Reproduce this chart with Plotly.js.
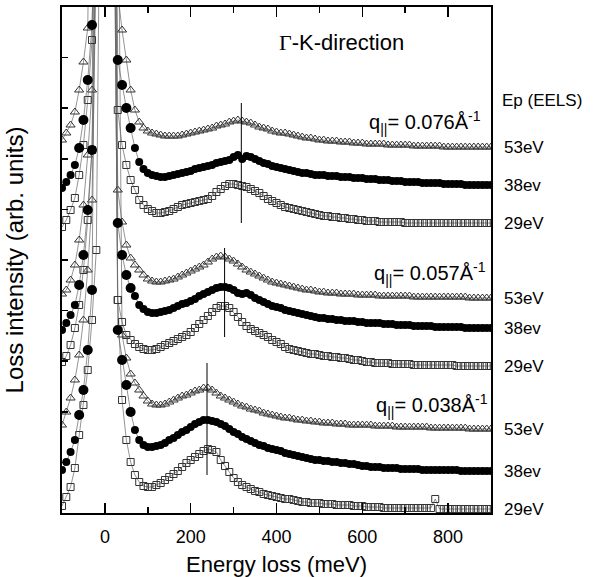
<!DOCTYPE html>
<html>
<head>
<meta charset="utf-8">
<script src="https://cdn.plot.ly/plotly-3.0.1.min.js"></script>
<style>html,body{margin:0;padding:0;background:#fff;}#chart{width:596px;height:577px;}</style>
</head>
<body>
<div id="chart"></div>
<script>
// Energy loss axis (meV)
const energy = [-100,-90,-80,-70,-60,-50,-40,-30,-20,-10,
  0,10,20,30,40,50,60,70,80,90,
  100,110,120,130,140,150,160,170,180,190,
  200,210,220,230,240,250,260,270,280,290,
  300,310,320,330,340,350,360,370,380,390,
  400,410,420,430,440,450,460,470,480,490,
  500,510,520,530,540,550,560,570,580,590,
  600,610,620,630,640,650,660,670,680,690,
  700,710,720,730,740,750,760,770,780,790,
  800,810,820,830,840,850,860,870,880,890,900];

// Loss intensity (arb. units, offset curves). Values above 506 are off-scale (elastic peak).
// q|| = 0.038 1/A
const q038_29eV = [7,16,26,45,78,108,143,193,263,700,
  800,800,700,213,113,73,51,38,31,27,
  26,26,28,30,33,36,39,42,46,50,
  53,56,59,62,64,63,61,53,47,41,
  35,31,28,26,24,22,21,19,18,17,
  16,15,14,14,13,12,11,11,10,10,
  10,9,9,9,8,8,8,8,7,7,
  7,6,6,6,6,5,5,5,5,5,
  5,5,5,5,5,5,5,14,4,4,
  4,4,4,4,4,4,4,4,4,4,4];
const q038_38eV = [43,51,61,73,98,123,163,223,700,800,
  800,800,800,183,153,128,101,83,73,68,
  66,66,67,68,70,73,75,78,81,83,
  86,89,91,93,93,92,91,89,87,84,
  81,79,76,74,72,70,68,67,65,64,
  63,62,60,59,58,57,56,55,54,53,
  53,52,52,51,51,50,50,49,49,48,
  47,47,46,46,46,45,45,45,45,44,
  44,44,44,44,43,43,43,43,43,43,
  43,43,43,42,42,42,42,42,42,42,42];
const q038_53eV = [88,101,115,133,158,193,243,313,700,800,
  800,800,800,700,178,155,139,130,123,117,
  112,109,108,108,109,111,113,115,117,118,
  120,122,123,125,125,123,120,117,115,113,
  111,109,107,106,104,103,102,100,99,98,
  97,96,95,95,94,93,93,92,92,91,
  91,90,90,90,89,89,89,88,88,88,
  88,88,88,87,87,87,87,87,86,86,
  86,86,86,86,86,86,85,85,85,85,
  85,85,85,85,85,84,84,84,84,84,84];
// q|| = 0.057 1/A
const q057_29eV = [151,157,168,185,208,243,293,363,700,800,
  800,800,700,213,191,178,173,169,166,164,
  163,163,164,166,168,170,172,174,176,178,
  181,185,189,193,197,201,205,207,207,205,
  201,196,191,187,184,182,180,178,176,173,
  171,169,166,164,163,162,161,160,159,159,
  158,157,157,156,156,155,155,154,153,153,
  152,151,151,150,150,150,150,149,149,149,
  149,149,148,148,148,148,148,148,148,148,
  148,148,147,147,147,147,147,147,147,147,147];
const q057_38eV = [183,190,198,208,228,258,303,363,700,800,
  800,800,800,290,258,238,225,217,208,204,
  201,200,200,201,202,203,205,207,209,210,
  212,214,217,219,221,223,225,226,226,225,
  223,220,219,220,218,215,213,211,209,207,
  206,205,203,202,201,200,199,198,197,196,
  195,195,194,194,193,193,192,192,192,191,
  191,190,190,190,190,189,189,189,188,188,
  188,188,187,187,187,187,187,186,186,186,
  186,186,186,186,185,185,185,185,185,185,185];
const q057_53eV = [219,223,233,248,273,308,358,423,700,800,
  800,800,800,323,291,268,255,248,243,238,
  234,232,231,231,232,233,234,236,238,240,
  242,244,246,248,251,254,256,257,256,254,
  252,249,246,243,241,239,237,235,233,231,
  230,229,228,227,226,225,224,223,223,222,
  221,221,220,220,220,219,219,219,219,218,
  218,218,218,218,217,217,217,217,217,217,
  217,217,216,216,216,216,216,216,216,216,
  216,216,216,216,216,215,215,215,215,215,215];
// q|| = 0.076 1/A
const q076_29eV = [286,293,303,315,338,368,413,473,800,800,
  800,800,800,403,368,348,333,323,313,308,
  304,302,300,300,301,302,304,306,308,309,
  310,311,312,313,314,317,321,324,327,329,
  329,328,327,326,324,322,320,317,314,312,
  310,308,306,305,304,303,302,301,300,299,
  298,297,297,296,296,295,295,294,294,293,
  293,292,292,292,291,291,291,291,291,291,
  290,290,290,290,290,290,290,290,290,290,
  290,290,290,290,290,290,290,290,290,290,290];
const q076_38eV = [325,331,338,348,365,393,433,488,800,800,
  800,800,800,453,428,405,385,365,351,344,
  340,338,337,336,336,337,338,339,340,341,
  342,344,345,346,347,348,350,351,352,353,
  356,358,354,357,356,354,352,350,349,347,
  346,345,344,343,342,341,340,340,339,338,
  338,338,337,337,337,336,336,336,335,335,
  335,334,334,334,333,333,333,332,332,332,
  331,331,331,331,330,330,330,330,330,329,
  329,329,329,329,328,328,328,328,328,328,328];
const q076_53eV = [373,380,388,401,423,451,485,800,800,800,
  800,800,800,520,483,453,423,403,391,385,
  382,380,379,378,377,377,377,377,378,379,
  380,381,382,383,384,385,387,388,389,391,
  392,393,392,391,390,388,386,385,384,382,
  381,380,380,379,378,377,376,375,375,374,
  373,373,372,372,372,371,371,371,370,370,
  370,369,369,369,369,369,368,368,368,368,
  368,368,367,367,367,367,367,367,367,366,
  366,366,366,366,366,366,366,366,366,366,366];

// Plasmon peak markers (vertical lines)
const peakEnergy = [238, 279, 318];
const peakLineLow = [38, 176, 290];
const peakLineHigh = [150, 265, 410];

const qLabels = ['0.038', '0.057', '0.076'];
const epLabels = ['53eV', '38ev', '29eV'];

const groups = [
  {q: qLabels[0], s53: q038_53eV, s38: q038_38eV, s29: q038_29eV},
  {q: qLabels[1], s53: q057_53eV, s38: q057_38eV, s29: q057_29eV},
  {q: qLabels[2], s53: q076_53eV, s38: q076_38eV, s29: q076_29eV}
];

const lineStyle = {color: '#666', width: 0.7};
// filled circles are drawn larger around the elastic peak, as in the original figure
const circleSizes = energy.map(e => (e > -70 && e < 70) ? 10 : 8);
const traces = [];
groups.forEach(g => {
  traces.push({x: energy, y: g.s29, type: 'scatter', mode: 'lines+markers', line: lineStyle,
    marker: {symbol: 'square-open', size: 7, color: '#333', opacity: 1, line: {width: 1}}, hoverinfo: 'skip'});
  traces.push({x: energy, y: g.s53, type: 'scatter', mode: 'lines+markers', line: lineStyle,
    marker: {symbol: 'triangle-up-open', size: 8, color: '#333', opacity: 1, line: {width: 1}}, hoverinfo: 'skip'});
  traces.push({x: energy, y: g.s38, type: 'scatter', mode: 'lines+markers', line: lineStyle,
    marker: {symbol: 'circle', size: circleSizes, color: '#000', opacity: 1, line: {width: 0}}, hoverinfo: 'skip'});
});
peakEnergy.forEach((e, i) => {
  traces.push({x: [e, e], y: [peakLineLow[i], peakLineHigh[i]], type: 'scatter', mode: 'lines',
    line: {color: '#000', width: 1}, hoverinfo: 'skip'});
});

const annotations = [];
groups.forEach(g => {
  [g.s53, g.s38, g.s29].forEach((s, j) => {
    annotations.push({xref: 'paper', yref: 'y', x: 1.025, y: s[s.length - 1], xanchor: 'left', yanchor: 'middle',
      text: epLabels[j], showarrow: false, font: {size: 17, color: '#000'}});
  });
});
const qLabelY = [108, 240, 391];
const qLabelX = [628, 623, 612];
groups.forEach((g, i) => {
  annotations.push({xref: 'x', yref: 'y', x: qLabelX[i], y: qLabelY[i], xanchor: 'left', yanchor: 'middle',
    text: 'q<sub>||</sub>= ' + g.q + 'Å<sup>-1</sup>', showarrow: false, font: {size: 20, color: '#000'}});
});
annotations.push({xref: 'paper', yref: 'y', x: 1.02, y: 413, xanchor: 'left', yanchor: 'middle',
  text: 'Ep (EELS)', showarrow: false, font: {size: 17, color: '#000'}});
annotations.push({xref: 'x', yref: 'y', x: 402, y: 471, xanchor: 'left', yanchor: 'middle',
  text: '<span style="font-family:Liberation Serif, Times New Roman, serif">Γ</span>-K-direction',
  showarrow: false, font: {size: 22, color: '#000'}});

const layout = {
  width: 596, height: 577,
  margin: {l: 62, r: 105, t: 7, b: 64},
  paper_bgcolor: '#fff', plot_bgcolor: '#fff',
  showlegend: false,
  font: {family: 'Liberation Sans, Arial, sans-serif', color: '#000'},
  xaxis: {
    range: [-100, 900], tick0: 0, dtick: 200,
    ticks: 'inside', ticklen: 10, tickwidth: 1.5, tickcolor: '#000',
    minor: {dtick: 100, ticks: 'inside', ticklen: 6, tickwidth: 1.5, tickcolor: '#000'},
    showline: true, linewidth: 2, linecolor: '#000', mirror: 'ticks',
    showgrid: false, zeroline: false,
    tickfont: {size: 18}, ticklabelstandoff: 6,
    title: {text: 'Energy loss (meV)', font: {size: 22}, standoff: 11}
  },
  yaxis: {
    range: [0, 506], tick0: 0, dtick: 50.6,
    ticks: 'inside', ticklen: 6, tickwidth: 1.5, tickcolor: '#000',
    showticklabels: false,
    showline: true, linewidth: 2, linecolor: '#000', mirror: true,
    showgrid: false, zeroline: false,
    title: {text: 'Loss intensity (arb. units)', font: {size: 24}, standoff: 30}
  },
  annotations: annotations
};

Plotly.newPlot('chart', traces, layout, {displayModeBar: false, staticPlot: true});
</script>
</body>
</html>
